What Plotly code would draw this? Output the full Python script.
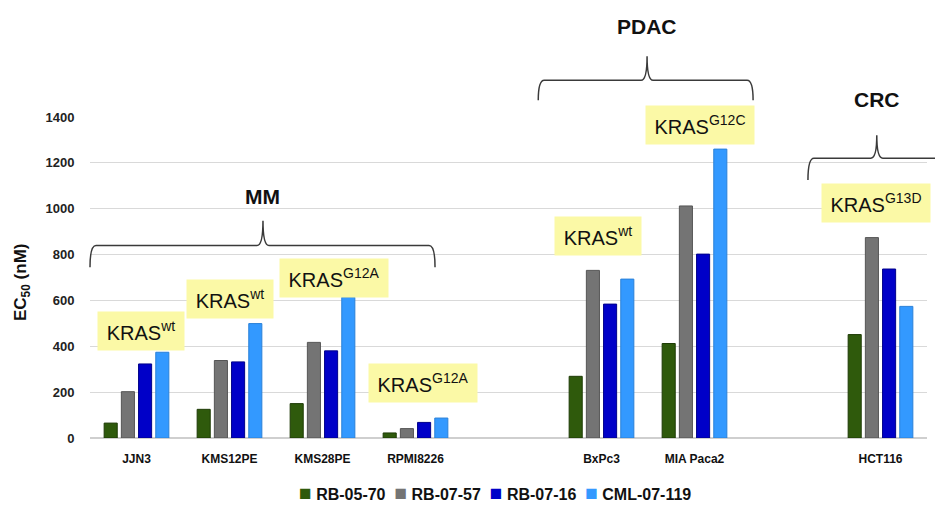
import plotly.graph_objects as go

# Cell lines grouped by tumour type
groups = ["MM", "PDAC", "CRC"]
cell_lines = {
    "MM": ["JJN3", "KMS12PE", "KMS28PE", "RPMI8226"],
    "PDAC": ["BxPc3", "MIA Paca2"],
    "CRC": ["HCT116"],
}
kras_status = ["wt", "wt", "G12A", "G12A", "wt", "G12C", "G13D"]

# EC50 values (nM) per compound, in cell-line order
series_names = ["RB-05-70", "RB-07-57", "RB-07-16", "CML-07-119"]
rb_05_70 = [65, 125, 150, 22, 269, 412, 451]
rb_07_57 = [202, 338, 417, 41, 731, 1012, 874]
rb_07_16 = [323, 332, 380, 68, 584, 802, 737]
cml_07_119 = [374, 499, 614, 87, 693, 1260, 574]
values = [rb_05_70, rb_07_57, rb_07_16, cml_07_119]

y_ticks = [0, 200, 400, 600, 800, 1000, 1200, 1400]

fills = ["#2f5a0c", "#747474", "#0000c8", "#3399ff"]
edges = ["#1d3a05", "#555555", "#00008a", "#2a80d8"]

# slot positions: one empty slot between tumour-type groups
labels, positions = [], []
pos = 0
for g in groups:
    for name in cell_lines[g]:
        labels.append(name)
        positions.append(pos)
        pos += 1
    pos += 1

FONT = "Liberation Sans, Arial, sans-serif"

fig = go.Figure()
for name, vals, fc, ec in zip(series_names, values, fills, edges):
    fig.add_trace(go.Bar(
        x=positions, y=vals, name=name, showlegend=False,
        marker=dict(color=fc, line=dict(color=ec, width=1)),
    ))

# plot-area geometry (pixels) used to place decorations
W, H = 935, 505
L, R, T, B = 90, 8, 117, 67
PW, PH = W - L - R, H - T - B
X0, X1 = -0.5, 8.5
Y1 = 1400


def px_x(xd):
    return (xd - X0) / (X1 - X0)


def px_y(yd):
    return yd / Y1


def brace(xa, xb, xm, y_end, y_line, y_tip):
    # curly brace opening downward, in paper coordinates
    r = 6 / PW
    a, b, m = px_x(xa), px_x(xb), px_x(xm)
    ye, yl, yt = px_y(y_end), px_y(y_line), px_y(y_tip)
    return (f"M{a},{ye} Q{a},{yl} {a + r},{yl} L{m - r},{yl} "
            f"Q{m},{yl} {m},{yt} Q{m},{yl} {m + r},{yl} "
            f"L{b - r},{yl} Q{b},{yl} {b},{ye}")


braces = [
    # group, x start, x end, x tip, y end, y line, y tip, label y
    ("MM", -0.5, 3.21, 1.36, 745, 840, 948, 1055),
    ("PDAC", 4.32, 6.63, 5.49, 1473, 1560, 1665, 1795),
    ("CRC", 7.22, 8.7, 7.96, 1125, 1220, 1320, 1475),
]

shapes = []
annotations = []
for g, xa, xb, xm, ye, yl, yt, ly in braces:
    shapes.append(dict(type="path", xref="paper", yref="paper",
                       path=brace(xa, xb, xm, ye, yl, yt),
                       line=dict(color="#3a3a3a", width=1.5)))
    annotations.append(dict(x=px_x(xm), y=px_y(ly), xref="paper", yref="paper",
                            text=f"<b>{g}</b>", showarrow=False,
                            font=dict(family=FONT, size=21, color="#111111"),
                            xanchor="center", yanchor="middle"))

# KRAS mutation labels (box centres in data units)
box_pos = [(0.05, 465), (1.0, 605), (2.12, 700), (3.08, 238),
           (4.96, 882), (6.06, 1364), (7.95, 1025)]
for (bx, by), status in zip(box_pos, kras_status):
    wide = status != "wt"
    annotations.append(dict(
        x=px_x(bx), y=px_y(by), xref="paper", yref="paper",
        text=f"KRAS<sup>{status}</sup>", showarrow=False,
        font=dict(family=FONT, size=20, color="#111111"),
        bgcolor="#fbf9a6", width=104 if wide else 82, height=34,
        borderpad=2, align="center", valign="middle",
        xanchor="center", yanchor="middle"))

annotations.append(dict(
    x=(22 - L) / PW, y=(H - B - 283) / PH, xref="paper", yref="paper",
    text="<b>EC<sub>50</sub> (nM)</b>", textangle=-90, showarrow=False,
    font=dict(family=FONT, size=17, color="#111111"),
    xanchor="center", yanchor="middle"))

# legend row: coloured square + series name for each compound
legend_text = "&nbsp;&nbsp;".join(
    f"<span style='color:{c};font-size:21px'>■</span>&nbsp;<b>{n}</b>"
    for n, c in zip(series_names, fills))
annotations.append(dict(
    x=(495 - L) / PW, y=(H - B - 492) / PH, xref="paper", yref="paper",
    text=legend_text, showarrow=False,
    font=dict(family=FONT, size=16, color="#111111"),
    xanchor="center", yanchor="middle"))

fig.update_layout(
    width=W, height=H,
    margin=dict(l=L, r=R, t=T, b=B, autoexpand=False),
    paper_bgcolor="white", plot_bgcolor="white",
    barmode="group", bargap=0.26, bargroupgap=0.24,
    font=dict(family=FONT, color="#111111"),
    shapes=shapes, annotations=annotations,
    showlegend=False,
    xaxis=dict(range=[X0, X1], tickmode="array", tickvals=positions,
               ticktext=[f"<b>{t}</b>" for t in labels],
               tickfont=dict(family=FONT, size=12, color="#111111"),
               showgrid=False, zeroline=False, showline=False,
               ticks="outside", ticklen=10, tickcolor="rgba(0,0,0,0)"),
    yaxis=dict(range=[0, Y1], tickmode="array", tickvals=y_ticks,
               ticktext=[f"<b>{v}</b>" for v in y_ticks],
               tickfont=dict(family=FONT, size=13, color="#222222"),
               showgrid=True, gridcolor="#d9d9d9", gridwidth=1,
               zeroline=True, zerolinecolor="#cfcfcf", zerolinewidth=1.5,
               showline=False, ticks="outside", ticklen=12,
               tickcolor="rgba(0,0,0,0)"),
)

fig.write_html("out.html")
